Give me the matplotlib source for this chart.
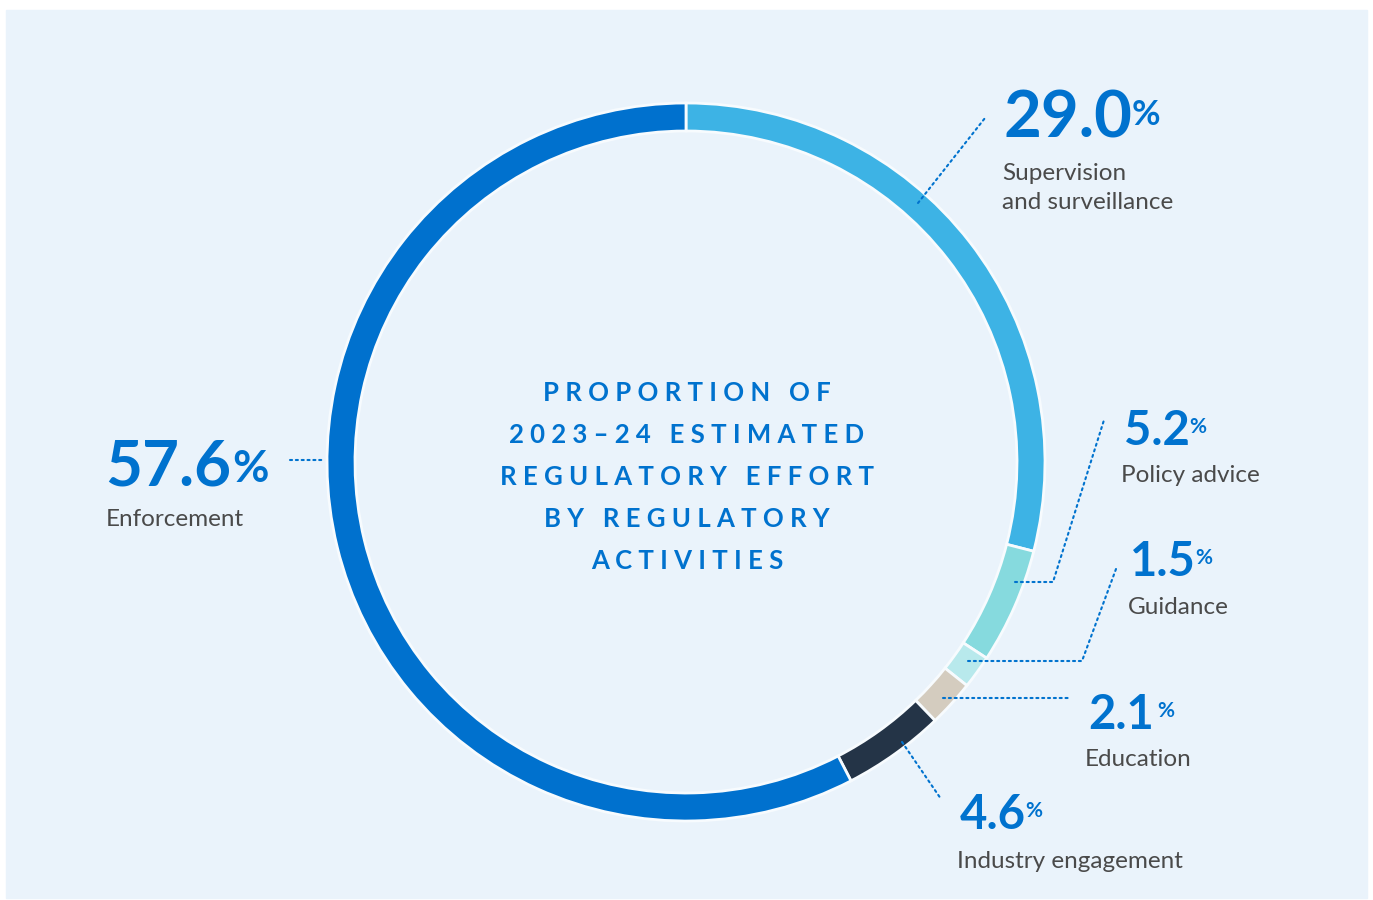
import matplotlib.pyplot as plt
from matplotlib.patches import Rectangle

# data, clockwise from 12 o'clock
categories = ['Supervision\nand surveillance', 'Policy advice', 'Guidance',
              'Education', 'Industry engagement', 'Enforcement']
shares = [29.0, 5.2, 1.5, 2.1, 4.6, 57.6]
colors = ['#3db3e5', '#86dade', '#b8e9ec', '#d4ccbf', '#243447', '#0071ce']
centre_title = ['PROPORTION OF', '2023\u201324 ESTIMATED', 'REGULATORY EFFORT',
                'BY REGULATORY', 'ACTIVITIES']

BLUE = '#0072ce'
GREY = '#4a4a4a'
BG = '#eaf3fb'
W, H = 1373, 900


def py(y):
    # picture rows (top down) -> data y (bottom up)
    return H - y


# layout of the callouts: number (left, baseline), size, label (left, centre y), leader path
callouts = [
    dict(num=(1003, 137), fs=47, pfs=25, pgap=0, pdrop=9, lab=(1002, 188), lead=[(918, 203), (985, 118)]),
    dict(num=(1124, 445), fs=34, pfs=15, pgap=-1, pdrop=6, lab=(1121, 476), lead=[(1015, 582), (1053, 582), (1104, 420)]),
    dict(num=(1130, 576), fs=34, pfs=15, pgap=-1, pdrop=6, lab=(1128, 607), lead=[(968, 661), (1082, 661), (1116, 569)]),
    dict(num=(1088, 729), fs=34, pfs=15, pgap=3, pdrop=6, lab=(1085, 760), lead=[(943, 698), (1071, 698)]),
    dict(num=(960, 829), fs=34, pfs=15, pgap=-1, pdrop=6, lab=(957, 861), lead=[(902, 742), (941, 799)]),
    dict(num=(105, 485), fs=46, pfs=32, pgap=1, pdrop=10, lab=(106, 519), lead=[(290, 460), (325, 460)]),
]

fig = plt.figure(figsize=(W / 100, H / 100), dpi=100, facecolor='white')
ax = fig.add_axes([0, 0, 1, 1])

ax.add_patch(Rectangle((6, py(898)), 1361, 888, color=BG, zorder=0))

ax.pie(shares, colors=colors, startangle=90, counterclock=False,
       radius=359, center=(686, py(462)),
       wedgeprops=dict(width=28, edgecolor='#f7fbfe', linewidth=2))

ax.set_xlim(0, W)
ax.set_ylim(0, H)
ax.set_aspect('equal')
ax.set_axis_off()

# centre title, letter-spaced
for i, line in enumerate(centre_title):
    spaced = '   '.join(' '.join(w) for w in line.split(' '))
    ax.text(687, py(393 + 42 * i), spaced, ha='center', va='center',
            fontsize=18.5, fontweight='bold', color=BLUE, family='Lato')

nums = []
for cat, val, c in zip(categories, shares, callouts):
    x, y = c['num']
    t = ax.text(x, py(y), f'{val:.1f}', fontsize=c['fs'], fontweight='bold',
                color=BLUE, family='Lato', ha='left', va='baseline')
    nums.append(t)
    lx, ly = c['lab']
    ax.text(lx, py(ly), cat, fontsize=17.5, color=GREY, family='Lato',
            ha='left', va='center', linespacing=1.45)
    xs = [p[0] for p in c['lead']]
    ys = [py(p[1]) for p in c['lead']]
    ax.plot(xs, ys, color=BLUE, linewidth=1.5, linestyle=(0, (1, 1.8)),
            dash_capstyle='round')

# percent signs right after each number
fig.canvas.draw()
for t, c in zip(nums, callouts):
    bb = t.get_window_extent()
    x, y = c['num']
    cap = c['fs'] * 100 / 72 * 0.72
    top = y - cap + c['pdrop']
    ax.text(bb.x1 + c['pgap'], py(top), '%', fontsize=c['pfs'], fontweight='bold',
            color=BLUE, family='Lato', ha='left', va='top')

fig.savefig('out.png', dpi=100, facecolor='white')
